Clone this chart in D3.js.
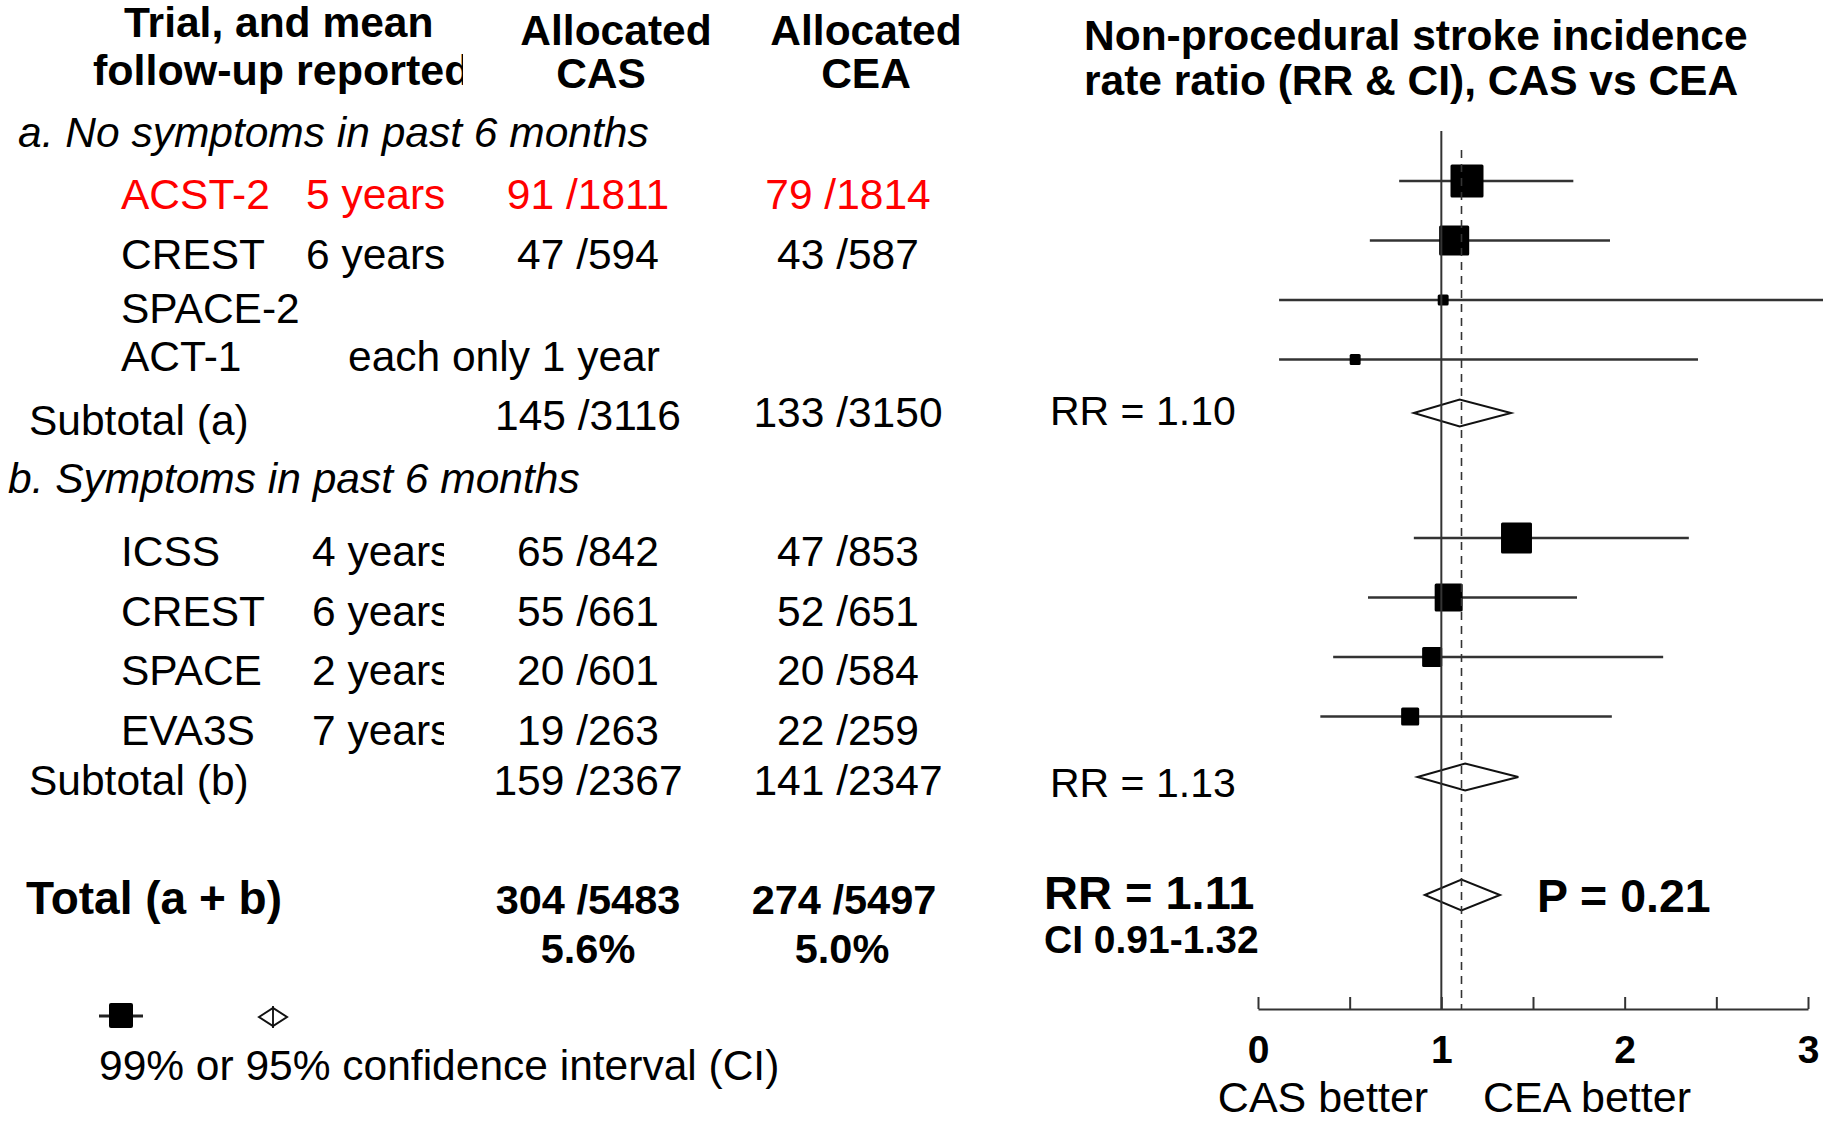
<!DOCTYPE html>
<html>
<head>
<meta charset="utf-8">
<script src="https://cdn.jsdelivr.net/npm/d3@7"></script>
<style>
  html, body { margin: 0; padding: 0; background: #fff; }
  svg { display: block; }
  text { font-family: "Liberation Sans", Arial, sans-serif; }
</style>
</head>
<body>
<script>
// ---------------- DATA ----------------
const trials     = ["ACST-2", "CREST", "SPACE-2", "ACT-1", "ICSS", "CREST", "SPACE", "EVA3S"];
const groups     = ["a", "a", "a", "a", "b", "b", "b", "b"];
const followUp   = ["5 years", "6 years", "", "each only 1 year", "4 years", "6 years", "2 years", "7 years"];
const casEvents  = [91, 47, null, null, 65, 55, 20, 19];
const casN       = [1811, 594, null, null, 842, 661, 601, 263];
const ceaEvents  = [79, 43, null, null, 47, 52, 20, 22];
const ceaN       = [1814, 587, null, null, 853, 651, 584, 259];
const rr         = [1.14, 1.07, 1.01, 0.53, 1.41, 1.04, 0.95, 0.83];
const ciLow      = [0.77, 0.61, 0.115, 0.115, 0.85, 0.60, 0.41, 0.34];
const ciHigh     = [1.72, 1.92, 3.5, 2.40, 2.35, 1.74, 2.21, 1.93];
const weight     = [100, 83, 11, 11, 88, 72, 37, 30];   // relative box weight
const highlight  = ["ACST-2"];

const subLabels    = ["Subtotal (a)", "Subtotal (b)"];
const subCasEvents = [145, 159];
const subCasN      = [3116, 2367];
const subCeaEvents = [133, 141];
const subCeaN      = [3150, 2347];
const subRR        = [1.10, 1.13];
const subLow       = [0.85, 0.87];
const subHigh      = [1.38, 1.42];

const totalLabel     = "Total (a + b)";
const totalCasEvents = 304, totalCasN = 5483, totalCasPct = "5.6%";
const totalCeaEvents = 274, totalCeaN = 5497, totalCeaPct = "5.0%";
const totalRR = 1.11, totalLow = 0.91, totalHigh = 1.32, totalP = "0.21";

const sectionLabels = ["a. No symptoms in past 6 months", "b. Symptoms in past 6 months"];
const xTicks  = [0, 0.5, 1, 1.5, 2, 2.5, 3];
const xLabels = ["CAS better", "CEA better"];
const legendText = "99% or 95% confidence interval (CI)";

// ---------------- LAYOUT ----------------
const W = 1823, H = 1121;
const svg = d3.select("body").append("svg").attr("width", W).attr("height", H);
svg.append("rect").attr("width", W).attr("height", H).attr("fill", "#fff");

const x = d3.scaleLinear().domain([0, 3]).range([1258, 1808]);
const y = d3.scaleLinear().domain([0, 12]).range([181, 895]);
const boxSize = d3.scaleSqrt().domain([0, d3.max(weight)]).range([0, 33]);

const FS = 42.5;
const colCAS = 588, colCEA = 848;
const axisY = 1009, lineTop = 131, dashTop = 150;

// row index assignment
const rowOf = [];
let r = 0;
groups.forEach((g, i) => {
  if (i > 0 && g !== groups[i - 1]) { r += 2; }  // subtotal row + section header row
  rowOf.push(r); r += 1;
});
const subRow = [rowOf[groups.lastIndexOf("a")] + 1, rowOf[groups.length - 1] + 1];
const totalRow = subRow[1] + 2;

// clip paths
const defs = svg.append("defs");
defs.append("clipPath").attr("id", "clipHead").append("rect").attr("x", 0).attr("y", 0).attr("width", 463).attr("height", 200);
defs.append("clipPath").attr("id", "clipYearsB").append("rect").attr("x", 0).attr("y", 0).attr("width", 444).attr("height", H);

// ---------------- HEADERS ----------------
const hdr = svg.append("g").attr("font-weight", "bold").attr("font-size", FS).attr("fill", "#000");
hdr.append("text").attr("x", 124).attr("y", 37).text("Trial, and mean");
hdr.append("text").attr("x", 93).attr("y", 85).attr("font-size", 43).attr("clip-path", "url(#clipHead)").text("follow-up reported");
hdr.append("text").attr("x", 616).attr("y", 45).attr("text-anchor", "middle").text("Allocated");
hdr.append("text").attr("x", 601).attr("y", 88).attr("text-anchor", "middle").text("CAS");
hdr.append("text").attr("x", 866).attr("y", 45).attr("text-anchor", "middle").text("Allocated");
hdr.append("text").attr("x", 866).attr("y", 88).attr("text-anchor", "middle").text("CEA");
hdr.append("text").attr("x", 1084).attr("y", 50).text("Non-procedural stroke incidence");
hdr.append("text").attr("x", 1084).attr("y", 95).text("rate ratio (RR & CI), CAS vs CEA");

// section labels
svg.append("text").attr("x", 18).attr("y", 147).attr("font-size", FS).attr("font-style", "italic").text(sectionLabels[0]);
svg.append("text").attr("x", 8).attr("y", 493).attr("font-size", FS).attr("font-style", "italic").text(sectionLabels[1]);

// ---------------- TRIAL ROWS TEXT ----------------
const textOffset = (i) => {
  if (followUp[i] === "") return 23;
  if (casEvents[i] === null) return 11;
  return 28;
};
const tg = svg.append("g").attr("font-size", FS);
trials.forEach((name, i) => {
  const by = y(rowOf[i]) + textOffset(i);
  const col = highlight.includes(name) ? "#ff0000" : "#000";
  tg.append("text").attr("x", 121).attr("y", by).attr("fill", col).text(name);
  if (followUp[i]) {
    const isNote = casEvents[i] === null;
    const t = tg.append("text")
      .attr("x", isNote ? 348 : (groups[i] === "a" ? 306 : 312))
      .attr("y", by).attr("fill", col).text(followUp[i]);
    if (groups[i] === "b") t.attr("clip-path", "url(#clipYearsB)");
  }
  if (casEvents[i] !== null) {
    tg.append("text").attr("x", colCAS).attr("y", by).attr("text-anchor", "middle").attr("fill", col)
      .text(casEvents[i] + " /" + casN[i]);
    tg.append("text").attr("x", colCEA).attr("y", by).attr("text-anchor", "middle").attr("fill", col)
      .text(ceaEvents[i] + " /" + ceaN[i]);
  }
});

// subtotals text
const subDy = [[16, 11, 8, 6], [19, 19, 19, 21]];   // label, CAS, CEA, RR baseline offsets
subLabels.forEach((lab, k) => {
  const yy = y(subRow[k]);
  tg.append("text").attr("x", 29).attr("y", yy + subDy[k][0]).text(lab);
  tg.append("text").attr("x", colCAS).attr("y", yy + subDy[k][1]).attr("text-anchor", "middle").text(subCasEvents[k] + " /" + subCasN[k]);
  tg.append("text").attr("x", colCEA).attr("y", yy + subDy[k][2]).attr("text-anchor", "middle").text(subCeaEvents[k] + " /" + subCeaN[k]);
  tg.append("text").attr("x", 1050).attr("y", yy + subDy[k][3]).attr("font-size", 41).text("RR = " + subRR[k].toFixed(2));
});

// total text
const tb = svg.append("g").attr("font-weight", "bold").attr("font-size", 41.5);
const ty = y(totalRow) + 19;
tb.append("text").attr("x", 26).attr("y", ty).attr("font-size", 46).text(totalLabel);
tb.append("text").attr("x", colCAS).attr("y", ty).attr("text-anchor", "middle").text(totalCasEvents + " /" + totalCasN);
tb.append("text").attr("x", colCEA - 4).attr("y", ty).attr("text-anchor", "middle").text(totalCeaEvents + " /" + totalCeaN);
tb.append("text").attr("x", colCAS).attr("y", ty + 49).attr("text-anchor", "middle").text(totalCasPct);
tb.append("text").attr("x", colCEA - 6).attr("y", ty + 49).attr("text-anchor", "middle").text(totalCeaPct);
tb.append("text").attr("x", 1044).attr("y", y(totalRow) + 14).attr("font-size", 47).text("RR = " + totalRR.toFixed(2));
tb.append("text").attr("x", 1044).attr("y", y(totalRow) + 58).attr("font-size", 39).text("CI " + totalLow.toFixed(2) + "-" + totalHigh.toFixed(2));
tb.append("text").attr("x", 1537).attr("y", y(totalRow) + 17).attr("font-size", 46.5).text("P = " + totalP);

// ---------------- FOREST PLOT ----------------
const plot = svg.append("g");

// CI lines and boxes
trials.forEach((name, i) => {
  const yy = y(rowOf[i]);
  plot.append("line").attr("x1", x(ciLow[i])).attr("x2", Math.min(x(ciHigh[i]), W))
    .attr("y1", yy).attr("y2", yy).attr("stroke", "#333").attr("stroke-width", 2.4);
  const s = boxSize(weight[i]);
  plot.append("rect").attr("x", x(rr[i]) - s / 2).attr("y", yy - s / 2)
    .attr("width", s).attr("height", s).attr("rx", 1.5).attr("fill", "#000");
});

// diamonds
const diamond = (lo, mid, hi, yy, h) =>
  `M${x(lo)},${yy} L${x(mid)},${yy - h / 2} L${x(hi)},${yy} L${x(mid)},${yy + h / 2} Z`;
const subShift = [-6, 1];
subRR.forEach((v, k) => {
  plot.append("path").attr("d", diamond(subLow[k], v, subHigh[k], y(subRow[k]) + subShift[k], 27))
    .attr("fill", "#fff").attr("stroke", "#111").attr("stroke-width", 2);
});
plot.append("path").attr("d", diamond(totalLow, totalRR, totalHigh, y(totalRow), 31))
  .attr("fill", "#fff").attr("stroke", "#111").attr("stroke-width", 2);

// reference lines (drawn over diamonds)
plot.append("line").attr("x1", x(totalRR)).attr("x2", x(totalRR)).attr("y1", dashTop).attr("y2", axisY)
  .attr("stroke", "#333").attr("stroke-width", 1.6).attr("stroke-dasharray", "8,6");
plot.append("line").attr("x1", x(1)).attr("x2", x(1)).attr("y1", lineTop).attr("y2", axisY)
  .attr("stroke", "#333").attr("stroke-width", 2);

// axis
const axis = d3.axisBottom(x).tickValues(xTicks).tickSize(-12).tickSizeOuter(0)
  .tickFormat(d => Number.isInteger(d) ? String(d) : "");
const ag = svg.append("g").attr("transform", `translate(0,${axisY})`).call(axis);
ag.select(".domain").attr("stroke", "#333").attr("stroke-width", 2.2);
ag.selectAll(".tick line").attr("stroke", "#333").attr("stroke-width", 2);
ag.selectAll(".tick text").attr("y", 54).attr("dy", 0)
  .attr("font-size", 39).attr("font-weight", "bold").attr("fill", "#000")
  .attr("font-family", "'Liberation Sans', Arial, sans-serif");
svg.append("text").attr("x", 1323).attr("y", 1112).attr("text-anchor", "middle")
  .attr("font-size", 43).text(xLabels[0]);
svg.append("text").attr("x", 1587).attr("y", 1112).attr("text-anchor", "middle")
  .attr("font-size", 43).text(xLabels[1]);

// ---------------- LEGEND ----------------
const lg = svg.append("g");
lg.append("line").attr("x1", 99).attr("x2", 143).attr("y1", 1016).attr("y2", 1016).attr("stroke", "#222").attr("stroke-width", 3);
lg.append("rect").attr("x", 109).attr("y", 1003).attr("width", 24).attr("height", 25).attr("rx", 2).attr("fill", "#000");
lg.append("line").attr("x1", 273).attr("x2", 273).attr("y1", 1006).attr("y2", 1028).attr("stroke", "#222").attr("stroke-width", 2);
lg.append("path").attr("d", "M259,1017 L273,1008 L287,1017 L273,1026 Z").attr("fill", "none").attr("stroke", "#111").attr("stroke-width", 2);
lg.append("text").attr("x", 99).attr("y", 1080).attr("font-size", FS).text(legendText);
</script>
</body>
</html>
